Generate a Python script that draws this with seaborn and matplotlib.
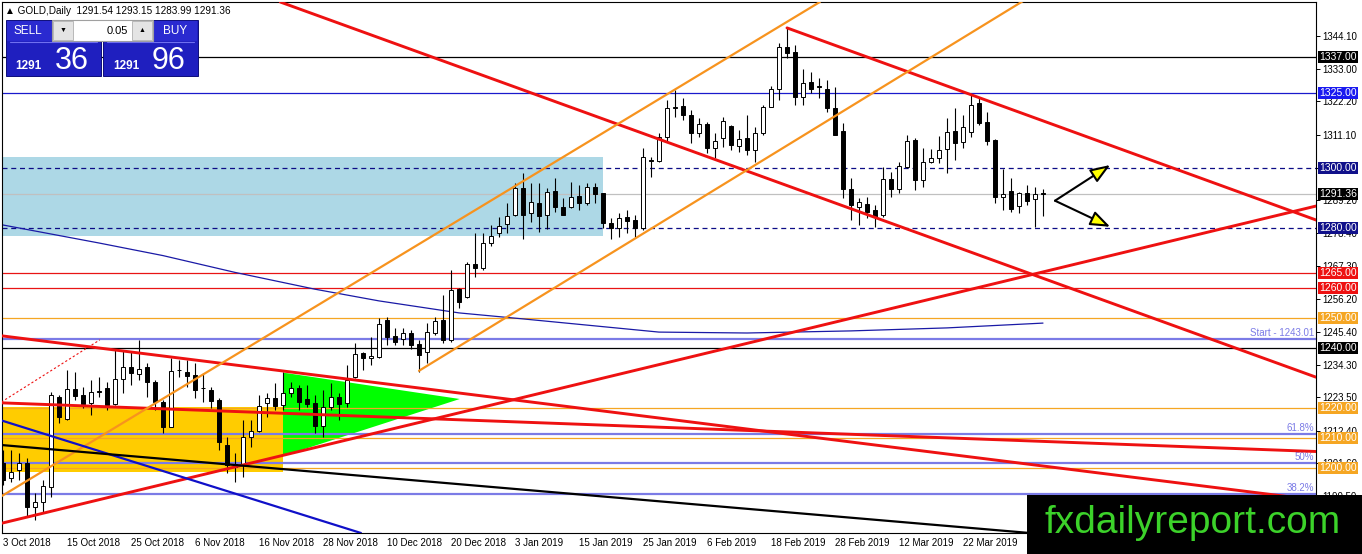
import numpy as np
import pandas as pd
import matplotlib
matplotlib.use("Agg")
import matplotlib.pyplot as plt
import seaborn as sns
from matplotlib.patches import Rectangle, Polygon, FancyArrowPatch

sns.set_theme(style="white")
plt.rcParams['font.family'] = ['Liberation Sans', 'DejaVu Sans']

# ==========================================
# Dados (lidos do gráfico GOLD Daily)
# ==========================================
opens = [1201.7, 1196.7, 1199.3, 1201.7, 1187.0, 1188.7, 1193.7, 1223.7, 1216.3, 1226.3,
         1224.3, 1221.7, 1225.5, 1226.7, 1221.3, 1229.7, 1233.7, 1231.3, 1233.7, 1228.7,
         1222.0, 1213.7, 1232.5, 1232.0, 1231.0, 1226.5, 1226.0, 1222.7, 1207.7, 1201.3,
         1201.0, 1210.3, 1212.3, 1221.7, 1223.3, 1221.0, 1225.0, 1226.7, 1223.0, 1221.7,
         1214.0, 1220.3, 1223.7, 1221.7, 1230.3, 1238.3, 1236.7, 1237.0, 1249.3, 1244.0,
         1243.0, 1245.0, 1241.3, 1238.7, 1245.0, 1249.3, 1242.7, 1259.7, 1257.0, 1268.0,
         1266.7, 1275.0, 1278.3, 1281.3, 1284.3, 1293.3, 1285.0, 1288.3, 1284.3, 1292.3,
         1287.0, 1287.0, 1290.7, 1288.3, 1293.7, 1291.7, 1281.7, 1280.0, 1283.7, 1282.7,
         1280.0, 1302.5, 1302.3, 1310.3, 1320.0, 1320.7, 1317.7, 1311.7, 1314.7, 1306.7,
         1310.0, 1314.0, 1307.3, 1310.0, 1306.0, 1311.7, 1320.3, 1326.3, 1340.3, 1338.7,
         1323.7, 1328.7, 1327.2, 1326.3, 1320.0, 1312.3, 1293.0, 1287.0, 1288.0, 1286.0,
         1284.3, 1296.3, 1293.0, 1300.3, 1309.3, 1296.0, 1302.0, 1303.3, 1306.3, 1312.3,
         1308.7, 1312.0, 1321.7, 1315.3, 1309.3, 1290.3, 1292.3, 1287.3, 1291.7, 1289.7,
         1291.54]
highs = [1206.0, 1206.0, 1205.0, 1203.3, 1191.7, 1196.0, 1225.3, 1224.3, 1232.7, 1232.0,
         1227.0, 1229.3, 1230.3, 1228.7, 1239.3, 1239.3, 1238.7, 1242.7, 1235.0, 1229.3,
         1222.7, 1236.7, 1236.0, 1236.0, 1235.0, 1231.7, 1227.0, 1223.3, 1210.3, 1205.0,
         1216.0, 1216.0, 1224.3, 1225.0, 1228.3, 1232.0, 1228.7, 1227.7, 1227.7, 1224.3,
         1226.0, 1228.3, 1225.0, 1234.3, 1241.7, 1238.7, 1243.7, 1250.0, 1250.3, 1246.7,
         1246.7, 1246.0, 1242.7, 1248.3, 1250.3, 1257.7, 1266.0, 1260.0, 1268.7, 1278.3,
         1278.3, 1281.0, 1283.7, 1288.3, 1295.0, 1298.3, 1295.0, 1295.0, 1293.3, 1296.7,
         1290.0, 1295.3, 1294.3, 1295.0, 1295.0, 1291.7, 1283.3, 1285.0, 1286.0, 1284.3,
         1306.7, 1303.7, 1311.7, 1322.7, 1326.0, 1323.3, 1319.3, 1316.7, 1315.3, 1311.7,
         1317.0, 1314.3, 1312.7, 1317.7, 1313.7, 1321.0, 1327.3, 1341.7, 1346.7, 1341.0,
         1333.0, 1332.0, 1330.0, 1329.3, 1327.0, 1315.0, 1296.7, 1290.0, 1290.3, 1287.7,
         1300.3, 1298.7, 1302.0, 1311.0, 1310.0, 1306.7, 1306.3, 1310.7, 1316.7, 1320.0,
         1317.7, 1324.3, 1323.3, 1318.7, 1309.7, 1299.7, 1296.7, 1292.0, 1294.3, 1293.7,
         1293.15]
lows = [1194.3, 1195.3, 1196.0, 1183.7, 1182.7, 1185.0, 1190.3, 1215.0, 1216.0, 1222.7,
        1220.0, 1217.7, 1223.7, 1219.3, 1221.0, 1225.0, 1227.7, 1229.3, 1223.7, 1219.3,
        1211.7, 1213.7, 1230.3, 1227.0, 1223.3, 1222.0, 1220.0, 1206.0, 1198.3, 1195.3,
        1197.0, 1207.0, 1212.0, 1217.0, 1219.3, 1219.3, 1223.7, 1219.3, 1220.3, 1211.7,
        1210.3, 1219.3, 1216.0, 1220.3, 1230.0, 1232.7, 1234.3, 1236.7, 1241.0, 1241.0,
        1241.0, 1239.7, 1232.0, 1235.0, 1244.3, 1241.7, 1242.0, 1253.3, 1256.7, 1263.7,
        1266.0, 1274.0, 1277.0, 1278.3, 1284.0, 1276.3, 1282.0, 1278.7, 1279.7, 1285.3,
        1284.3, 1286.7, 1286.0, 1287.7, 1288.3, 1280.0, 1276.3, 1277.0, 1278.3, 1277.0,
        1279.3, 1297.0, 1302.0, 1308.7, 1317.0, 1316.0, 1308.3, 1310.3, 1305.0, 1303.3,
        1307.0, 1306.0, 1305.3, 1304.3, 1302.0, 1311.0, 1320.3, 1322.7, 1336.7, 1321.0,
        1321.0, 1325.0, 1323.3, 1318.7, 1311.0, 1290.0, 1282.7, 1281.0, 1283.3, 1280.3,
        1283.7, 1290.3, 1291.7, 1300.0, 1292.7, 1293.7, 1301.7, 1301.7, 1298.3, 1302.7,
        1306.7, 1310.3, 1314.3, 1307.7, 1288.3, 1286.0, 1285.3, 1285.0, 1287.7, 1280.3,
        1283.99]
closes = [1196.0, 1198.7, 1201.7, 1187.0, 1188.7, 1194.0, 1224.3, 1217.0, 1226.3, 1224.0,
          1221.3, 1225.3, 1225.3, 1221.0, 1229.7, 1233.7, 1231.7, 1233.0, 1228.7, 1222.0,
          1213.7, 1232.3, 1232.7, 1230.7, 1226.0, 1226.7, 1222.3, 1208.7, 1201.0, 1200.3,
          1210.3, 1212.3, 1220.7, 1223.3, 1220.7, 1225.0, 1226.7, 1222.0, 1221.3, 1214.0,
          1220.3, 1223.7, 1221.3, 1229.3, 1238.0, 1236.7, 1237.3, 1248.0, 1243.7, 1242.0,
          1245.0, 1241.0, 1237.7, 1245.3, 1249.0, 1242.7, 1259.3, 1255.3, 1268.0, 1266.7,
          1275.0, 1277.3, 1280.7, 1284.0, 1293.3, 1284.3, 1288.7, 1284.0, 1292.0, 1287.0,
          1284.3, 1290.3, 1288.3, 1293.7, 1291.3, 1281.7, 1280.0, 1283.3, 1282.3, 1280.0,
          1303.7, 1302.3, 1310.3, 1320.0, 1320.3, 1317.7, 1311.7, 1314.7, 1306.7, 1309.0,
          1315.7, 1307.7, 1309.7, 1306.0, 1311.7, 1320.3, 1326.3, 1340.3, 1338.3, 1323.7,
          1328.3, 1326.3, 1327.0, 1320.0, 1311.0, 1293.0, 1287.7, 1288.7, 1285.3, 1283.7,
          1296.3, 1293.0, 1300.7, 1309.0, 1296.0, 1302.0, 1303.3, 1306.0, 1312.0, 1308.3,
          1313.7, 1321.0, 1315.0, 1309.0, 1290.3, 1291.3, 1286.3, 1291.7, 1289.0, 1291.3,
          1291.36]

date_bars = [0, 8, 16, 24, 32, 40, 48, 56, 64, 72, 80, 88, 96, 104, 112, 120]
date_labels = ['3 Oct 2018', '15 Oct 2018', '25 Oct 2018', '6 Nov 2018', '16 Nov 2018',
               '28 Nov 2018', '10 Dec 2018', '20 Dec 2018', '3 Jan 2019', '15 Jan 2019',
               '25 Jan 2019', '6 Feb 2019', '18 Feb 2019', '28 Feb 2019', '12 Mar 2019',
               '22 Mar 2019']

price_ticks = [1344.10, 1333.00, 1322.20, 1311.10, 1300.00, 1289.20, 1278.40, 1267.30,
               1256.20, 1245.40, 1234.30, 1223.50, 1212.40, 1201.60, 1190.50]

# média móvel (linha azul fina)
ma_bars = [0, 12, 20, 29, 39, 47, 52, 57, 65, 82, 93, 106, 118, 130]
ma_values = [1281.0, 1275.0, 1270.8, 1265.2, 1259.6, 1255.7, 1253.7, 1251.7, 1249.7,
             1245.3, 1245.0, 1245.7, 1246.7, 1248.3]

# níveis horizontais
level_prices = [1337.0, 1325.0, 1300.0, 1280.0, 1265.0, 1260.0, 1250.0, 1240.0, 1220.0, 1210.0, 1200.0]
fib_prices = [1243.01, 1211.3, 1201.6, 1191.4]
fib_names = ['Start - 1243.01', '61.8%', '50%', '38.2%']

bid = 1291.36
ask = 1291.96
lot = 0.05

# zonas e linhas de tendência (barra, preço)
blue_zone = [-5, 75, 1277.3, 1303.7]
gold_zone = [-5, 35, 1198.8, 1220.2]
green_triangle = [(35.0, 1231.8), (35.0, 1204.0), (57.1, 1223.0)]
red_lines = [[(35.0, 1355.0), (164.1, 1230.3)],
             [(0.0, 1181.7), (164.1, 1287.3)],
             [(0.0, 1244.0), (164.1, 1189.3)],
             [(0.0, 1221.7), (164.1, 1205.5)]]
red_ray = [(98.0, 1346.7), (164.1, 1282.7)]
red_dotted = [(-0.2, 1222.0), (12.1, 1242.7)]
orange_line = [(-0.375, 1190.3), (101.9, 1355.0)]
orange_ray = [(52.0, 1232.4), (127.1, 1355.0)]
blue_line = [(-0.375, 1216.0), (100.0, 1132.2)]
black_line = [(-0.375, 1207.7), (164.0, 1170.2)]
arrow_origin = (131.5, 1289.1)
arrow_tips = [(138.4, 1301.0), (138.4, 1280.4)]

df = pd.DataFrame({'o': opens, 'h': highs, 'l': lows, 'c': closes})
df['bar'] = np.arange(len(df))
df['up'] = df['c'] >= df['o']

# ==========================================
# Figura
# ==========================================
fig = plt.figure(figsize=(13.62, 5.54), dpi=100)
ax = fig.add_axes([2 / 1362, 21 / 554, 1314 / 1362, 531 / 554])
ax.set_facecolor('white')
ax.set_xlim(-0.125, 164.125)
ax.set_ylim(1178.333, 1355.333)

# zonas
ax.add_patch(Rectangle((blue_zone[0], blue_zone[2]), blue_zone[1] - blue_zone[0],
                       blue_zone[3] - blue_zone[2], fc='#ADD8E6', ec='none', zorder=1))
ax.add_patch(Rectangle((gold_zone[0], gold_zone[2]), gold_zone[1] - gold_zone[0],
                       gold_zone[3] - gold_zone[2], fc='#FFCC00', ec='none', zorder=1))
ax.add_patch(Polygon(green_triangle, closed=True, fc='#00FF00', ec='none', zorder=1.1))

# níveis horizontais
level_colors = ['black', '#1A1ACC', '#0C0C86', '#0C0C86', '#E81414', '#E81414',
                '#F5A623', 'black', '#F5A623', '#F5A623', '#F5A623']
box_colors = ['black', '#1A1AF0', '#10108A', '#10108A', '#EE1111', '#EE1111',
              '#F5A623', 'black', '#F5A623', '#F5A623', '#F5A623']
for price, col in zip(level_prices, level_colors):
    ls = (0, (4, 3)) if price in (1300.0, 1280.0) else '-'
    ax.axhline(price, color=col, lw=0.9, ls=ls, zorder=1.5)
ax.axhline(closes[-1], color='#C0C0C0', lw=0.9, zorder=1.4)

for price, name in zip(fib_prices, fib_names):
    ax.axhline(price, color='#7B7BE6', lw=1.6, zorder=1.6)
    ax.text(0.9985, price + 0.4, name, transform=ax.get_yaxis_transform(), ha='right',
            va='bottom', fontsize=7, color='#7B7BE6', zorder=1.7)

# média móvel
sns.lineplot(x=ma_bars, y=ma_values, ax=ax, color='#1A1AA6', linewidth=0.9, zorder=2)

# candles
ax.vlines(df['bar'], df['l'], df['h'], color='black', lw=0.8, zorder=2.9)
body_low = df[['o', 'c']].min(axis=1)
body_h = (df['c'] - df['o']).abs().clip(lower=0.12)
ax.bar(df['bar'], body_h, bottom=body_low, width=0.56,
       color=np.where(df['up'], 'white', 'black'), edgecolor='black', linewidth=0.7, zorder=3)

# linhas de tendência
def ray_end(p1, p2, x_end=170):
    slope = (p2[1] - p1[1]) / (p2[0] - p1[0])
    return (x_end, p1[1] + slope * (x_end - p1[0]))

for pts in red_lines:
    ax.axline(pts[0], pts[1], color='#EE1111', lw=2.1, zorder=4)
e = ray_end(*red_ray)
ax.plot([red_ray[0][0], e[0]], [red_ray[0][1], e[1]], color='#EE1111', lw=2.1, zorder=4)
ax.plot([p[0] for p in red_dotted], [p[1] for p in red_dotted], color='#EE1111', lw=0.8,
        ls=(0, (2, 2)), zorder=4)
ax.axline(orange_line[0], orange_line[1], color='#F7931E', lw=1.6, zorder=4)
e = ray_end(*orange_ray)
ax.plot([orange_ray[0][0], e[0]], [orange_ray[0][1], e[1]], color='#F7931E', lw=1.6, zorder=4)
ax.axline(blue_line[0], blue_line[1], color='#1010C8', lw=1.6, zorder=4)
ax.axline(black_line[0], black_line[1], color='black', lw=1.6, zorder=4)

for tip in arrow_tips:
    ax.add_patch(FancyArrowPatch(arrow_origin, tip, arrowstyle='-|>,head_length=12,head_width=4.5',
                                 mutation_scale=1, fc='#FFFF00', ec='black', lw=1.5,
                                 shrinkA=0, shrinkB=0, zorder=5))

# eixos
for s in ax.spines.values():
    s.set_color('black')
    s.set_linewidth(0.8)
ax.yaxis.tick_right()
ax.set_yticks(price_ticks)
# o rótulo 1300.00 fica escondido sob a etiqueta do nível
ax.set_yticklabels(['' if v == 1300.0 else f'{v:.2f}' for v in price_ticks])
ax.tick_params(axis='y', length=3, width=0.7, pad=1.5, labelsize=7, colors='black', direction='out')
ax.set_xticks(date_bars)
ax.set_xticklabels(date_labels)
ax.tick_params(axis='x', length=3, width=0.7, pad=0.5, labelsize=7, colors='black', direction='out')
for lab in ax.get_xticklabels():
    lab.set_ha('left')
ax.grid(False)

# etiquetas de preço à direita
for price, col in zip(level_prices, box_colors):
    ax.text(1.0025, price, f'{price:.2f}', transform=ax.get_yaxis_transform(), ha='left', va='center',
            fontsize=7.5, color='white', clip_on=False, zorder=8,
            bbox=dict(boxstyle='square,pad=0.1', fc=col, ec='none'))
ax.text(1.0025, closes[-1], f'{closes[-1]:.2f}', transform=ax.get_yaxis_transform(), ha='left',
        va='center', fontsize=7.5, color='white', clip_on=False, zorder=8,
        bbox=dict(boxstyle='square,pad=0.1', fc='black', ec='none'))

# ==========================================
# Painel de negociação e marca d'água
# ==========================================
ov = fig.add_axes([0, 0, 1, 1])
ov.set_xlim(0, 1362)
ov.set_ylim(554, 0)
ov.axis('off')
ov.patch.set_alpha(0)

ov.text(5, 11, f'▲ GOLD,Daily  {opens[-1]:.2f} {highs[-1]:.2f} {lows[-1]:.2f} {closes[-1]:.2f}',
        fontsize=7.2, va='center', ha='left', color='black')

bid_txt = f'{bid:.2f}'
ask_txt = f'{ask:.2f}'
for x0, label, txt, lx in [(6, 'SELL', bid_txt, 28), (103, 'BUY', ask_txt, 175)]:
    ov.add_patch(Rectangle((x0, 20), 95, 56, fc='#1F1FBF', ec='#0D0D7A', lw=0.7))
    ov.add_patch(Rectangle((x0 + 1, 21), 93, 20, fc='#2A2AD0', ec='none'))
    ov.plot([x0 + 4, x0 + 91], [42, 42], color='#7070F0', lw=0.8)
    ov.text(lx, 31, label, color='white', fontsize=8.5, ha='center', va='center')
    ov.text(x0 + 36, 69, txt[:4], color='white', fontsize=8.5, fontweight='bold', ha='right', va='baseline')
    ov.text(x0 + 49, 69, txt[5:], color='white', fontsize=22, ha='left', va='baseline')

ov.add_patch(Rectangle((52, 20), 101, 21, fc='white', ec='#A0A0A0', lw=0.8))
ov.add_patch(Rectangle((53, 21), 20, 19, fc='#E4E4E4', ec='#B0B0B0', lw=0.6))
ov.add_patch(Rectangle((132, 21), 20, 19, fc='#E4E4E4', ec='#B0B0B0', lw=0.6))
ov.text(63, 30.5, '▼', fontsize=5, ha='center', va='center', color='black')
ov.text(142, 30.5, '▲', fontsize=5, ha='center', va='center', color='black')
ov.text(128, 30.5, f'{lot:.2f}', fontsize=8, ha='right', va='center', color='black')

ov.add_patch(Rectangle((1027, 495), 335, 59, fc='black', ec='none'))
ov.text(1193, 533, 'fxdailyreport.com', color='#3CD22A', fontsize=28, ha='center', va='baseline')

fig.savefig('out.png', dpi=100)
